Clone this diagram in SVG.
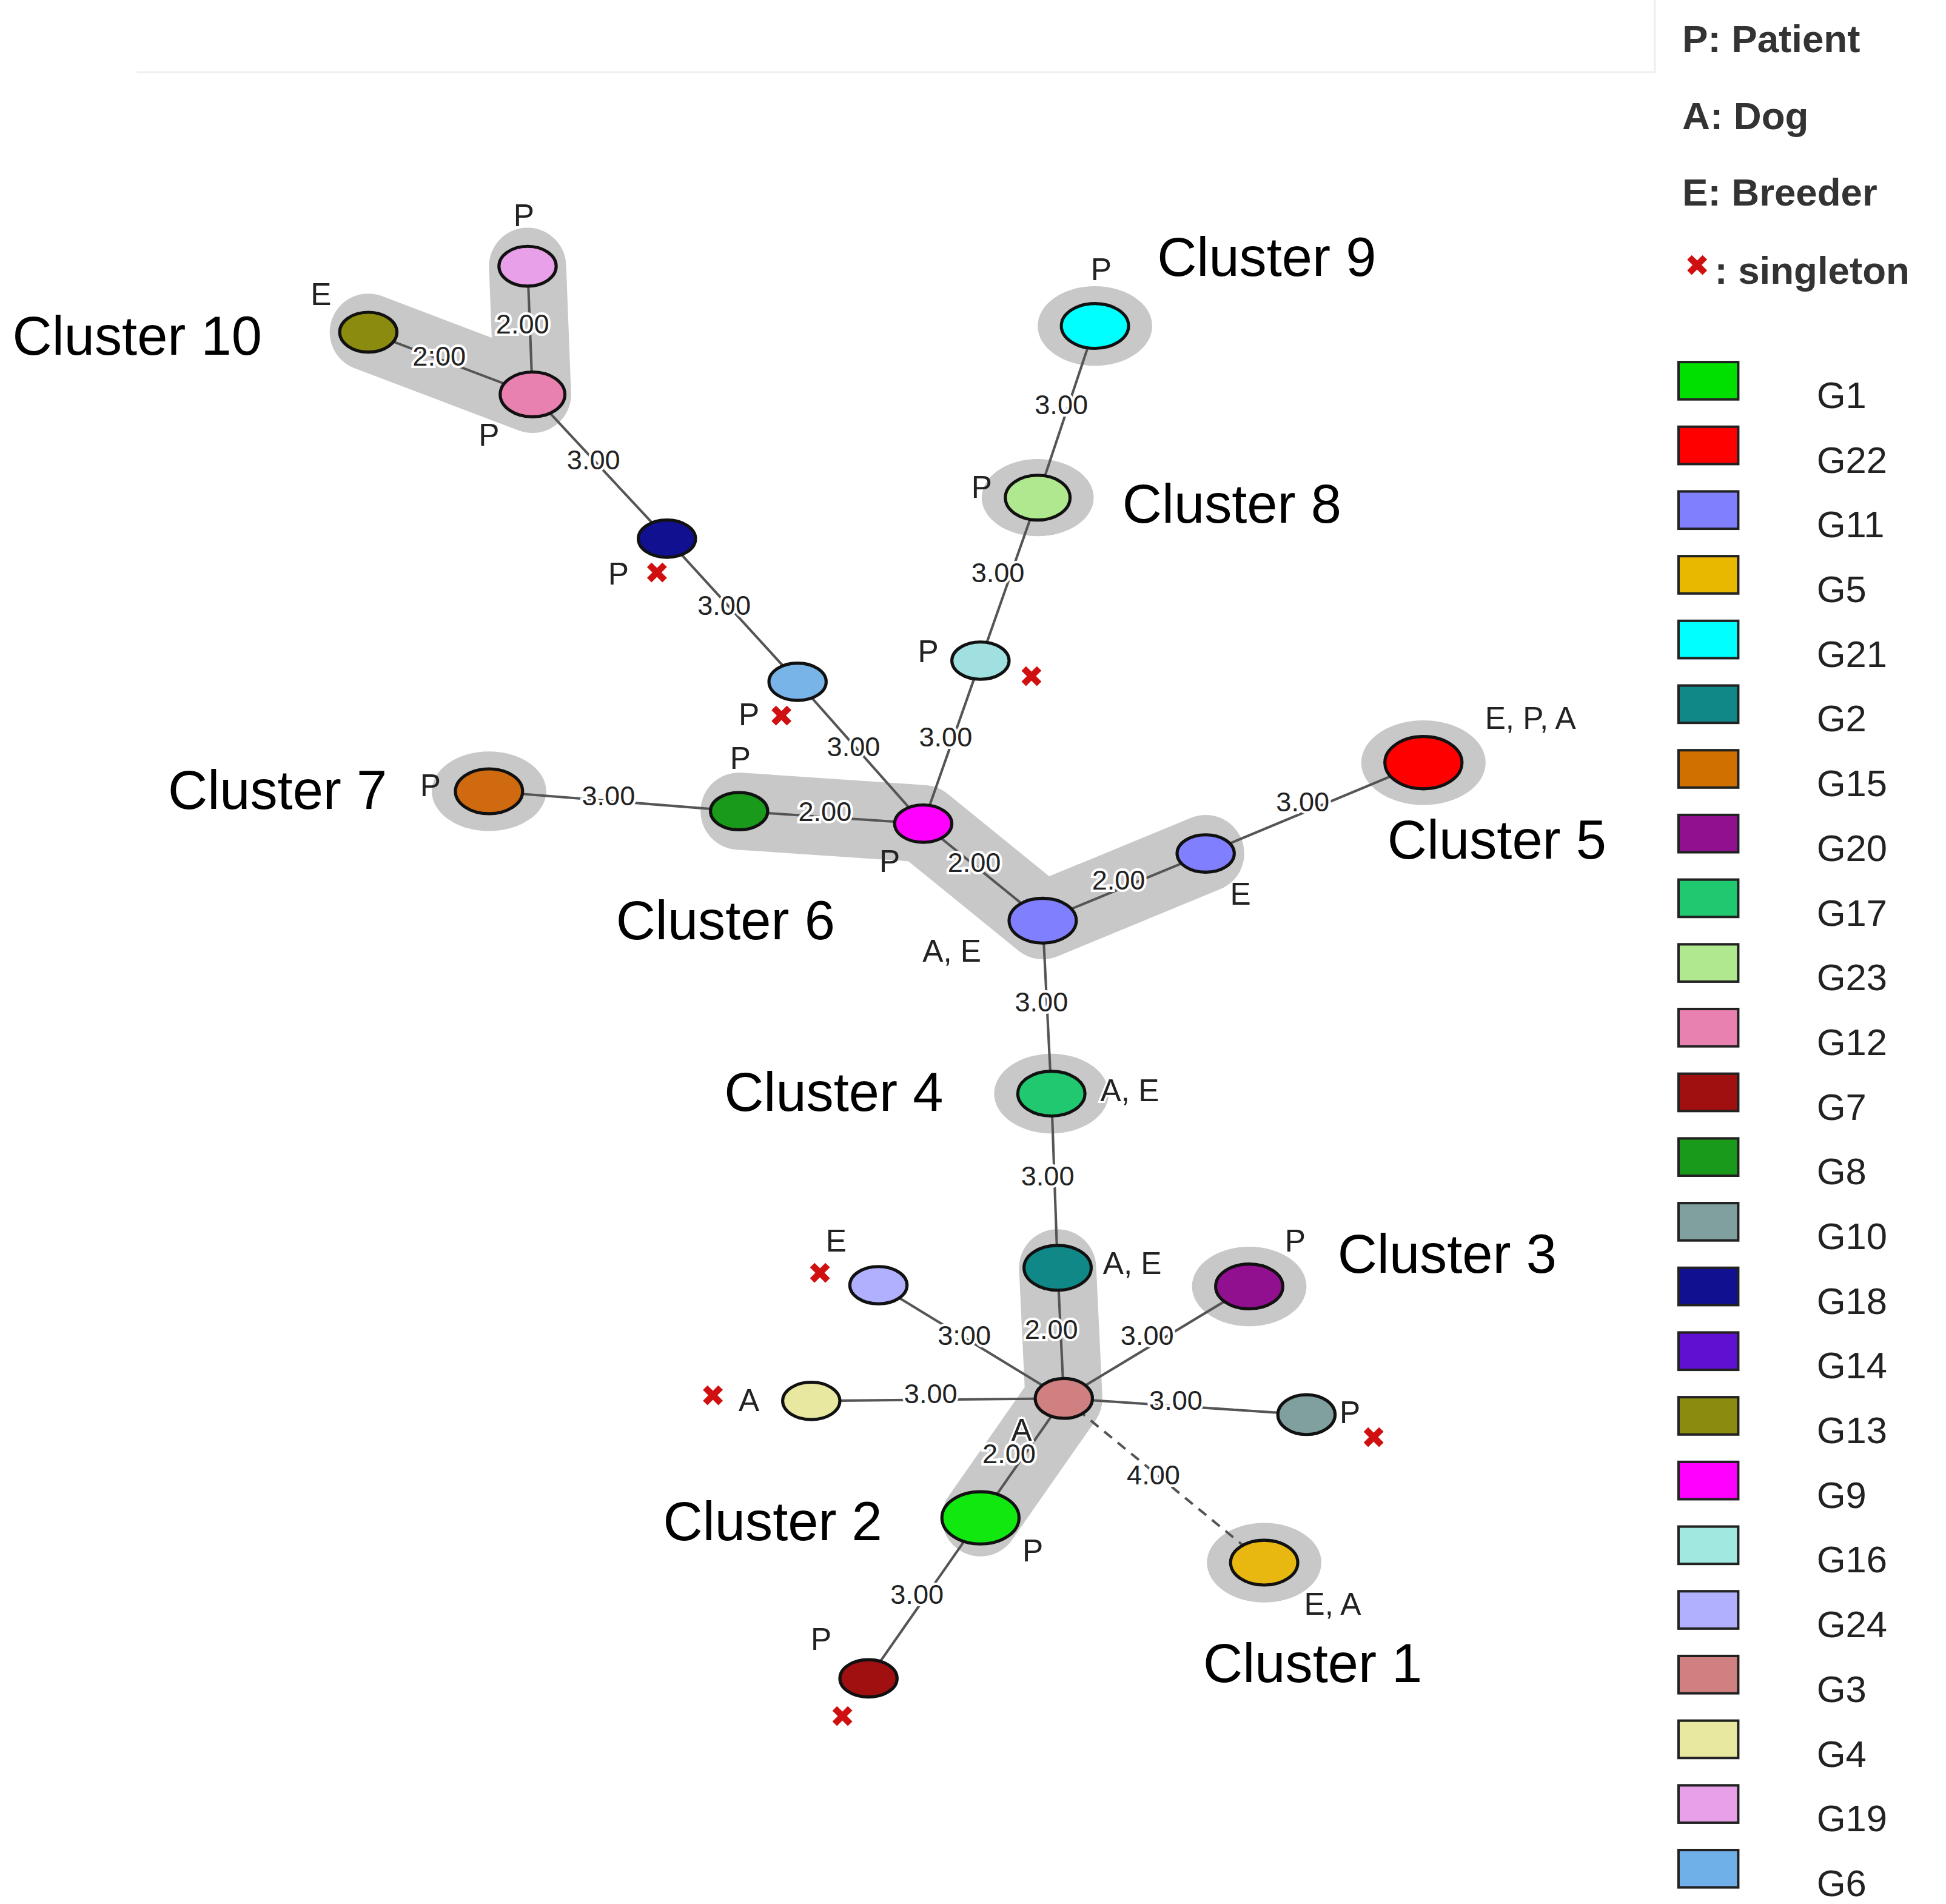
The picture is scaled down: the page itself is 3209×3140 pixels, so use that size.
<svg xmlns="http://www.w3.org/2000/svg" width="3209" height="3140" viewBox="0 0 3209 3140">
<style>
.e{stroke:#555;stroke-width:2;fill:none}
.n{stroke:#111;stroke-width:2.5}
.h{stroke:#c8c8c8;stroke-linecap:round;stroke-linejoin:round;fill:none;stroke-width:62}
.hc{fill:#c8c8c8}
.el{font-family:"Liberation Sans",Arial,sans-serif;font-size:22px;fill:#222;text-anchor:middle;stroke:#fff;stroke-width:4;paint-order:stroke}
.nl{font-family:"Liberation Sans",Arial,sans-serif;font-size:25px;fill:#222;text-anchor:middle}
.cl{font-family:"Liberation Sans",Arial,sans-serif;font-size:44px;fill:#000}
.x{font-family:"DejaVu Sans",sans-serif;font-size:24px;fill:#d01010;text-anchor:middle;font-weight:bold}
.lg{font-family:"Liberation Sans",Arial,sans-serif;font-size:31px;fill:#333;font-weight:bold}
.gl{font-family:"Liberation Sans",Arial,sans-serif;font-size:30px;fill:#222}
.sq{stroke:#222;stroke-width:2}
</style>
<rect width="3209" height="3140" fill="#fff"/>
<g transform="scale(2.0518)">
<g id="frame"><path d="M110 58 H1330 V0" stroke="#eee" stroke-width="1.5" fill="none"/></g>
<g id="halos">
<polyline class="h" points="424,214 428,317 296,267"/>
<polyline class="h" points="594,652 742,662 838,740 969,686"/>
<polyline class="h" points="850,1019 855,1124 788,1220"/>
<ellipse class="hc" cx="393" cy="636" rx="46" ry="32"/>
<ellipse class="hc" cx="834" cy="400" rx="45" ry="31"/>
<ellipse class="hc" cx="880" cy="262" rx="46" ry="32"/>
<ellipse class="hc" cx="845" cy="879" rx="46" ry="32"/>
<ellipse class="hc" cx="1004" cy="1034" rx="46" ry="32"/>
<ellipse class="hc" cx="1016" cy="1256" rx="46" ry="32"/>
<ellipse class="hc" cx="1144" cy="613" rx="50" ry="34"/>
</g>
<g id="connectors">
<line class="e" x1="424" y1="214" x2="428" y2="317"/>
<line class="e" x1="296" y1="267" x2="428" y2="317"/>
<line class="e" x1="428" y1="317" x2="536" y2="433"/>
<line class="e" x1="536" y1="433" x2="641" y2="548"/>
<line class="e" x1="641" y1="548" x2="742" y2="662"/>
<line class="e" x1="393" y1="636" x2="594" y2="652"/>
<line class="e" x1="594" y1="652" x2="742" y2="662"/>
<line class="e" x1="742" y1="662" x2="838" y2="740"/>
<line class="e" x1="838" y1="740" x2="969" y2="686"/>
<line class="e" x1="969" y1="686" x2="1144" y2="613"/>
<line class="e" x1="742" y1="662" x2="788" y2="531"/>
<line class="e" x1="788" y1="531" x2="834" y2="400"/>
<line class="e" x1="834" y1="400" x2="880" y2="262"/>
<line class="e" x1="838" y1="740" x2="845" y2="879"/>
<line class="e" x1="845" y1="879" x2="850" y2="1019"/>
<line class="e" x1="850" y1="1019" x2="855" y2="1124"/>
<line class="e" x1="706" y1="1033" x2="855" y2="1124"/>
<line class="e" x1="1004" y1="1034" x2="855" y2="1124"/>
<line class="e" x1="652" y1="1126" x2="855" y2="1124"/>
<line class="e" x1="1050" y1="1137" x2="855" y2="1124"/>
<line class="e" x1="855" y1="1124" x2="788" y2="1220"/>
<line class="e" x1="855" y1="1124" x2="1016" y2="1256" stroke="#999" stroke-dasharray="8,6"/>
<line class="e" x1="788" y1="1220" x2="698" y2="1349"/>
<text class="el" x="420" y="268">2.00</text>
<text class="el" x="353" y="294">2:00</text>
<text class="el" x="477" y="377">3.00</text>
<text class="el" x="582" y="494">3.00</text>
<text class="el" x="686" y="608">3.00</text>
<text class="el" x="760" y="600">3.00</text>
<text class="el" x="802" y="468">3.00</text>
<text class="el" x="853" y="333">3.00</text>
<text class="el" x="489" y="647">3.00</text>
<text class="el" x="663" y="660">2.00</text>
<text class="el" x="783" y="701">2.00</text>
<text class="el" x="899" y="715">2.00</text>
<text class="el" x="1047" y="652">3.00</text>
<text class="el" x="837" y="813">3.00</text>
<text class="el" x="842" y="953">3.00</text>
<text class="el" x="775" y="1081">3:00</text>
<text class="el" x="845" y="1076">2.00</text>
<text class="el" x="922" y="1081">3.00</text>
<text class="el" x="748" y="1128">3.00</text>
<text class="el" x="945" y="1133">3.00</text>
<text class="el" x="811" y="1176">2.00</text>
<text class="el" x="927" y="1193">4.00</text>
<text class="el" x="737" y="1289">3.00</text>
</g>
<g id="G19"><ellipse class="n" cx="424" cy="214" rx="23" ry="16" fill="#e8a0e8"/><text class="nl" x="421" y="182">P</text></g>
<g id="G13"><ellipse class="n" cx="296" cy="267" rx="23" ry="16" fill="#8b8b10"/><text class="nl" x="258" y="245">E</text></g>
<g id="G12"><ellipse class="n" cx="428" cy="317" rx="26" ry="18" fill="#e880b0"/><text class="nl" x="393" y="358">P</text></g>
<g id="G18"><ellipse class="n" cx="536" cy="433" rx="23" ry="15" fill="#101090"/><text class="nl" x="497" y="470">P</text><text class="x" x="528" y="469">✖</text></g>
<g id="G6"><ellipse class="n" cx="641" cy="548" rx="23" ry="15" fill="#78b4e8"/><text class="nl" x="602" y="583">P</text><text class="x" x="628" y="584">✖</text></g>
<g id="G9"><ellipse class="n" cx="742" cy="662" rx="23" ry="15" fill="#ff00ff"/><text class="nl" x="715" y="701">P</text></g>
<g id="G8"><ellipse class="n" cx="594" cy="652" rx="23" ry="15" fill="#1a9a1a"/><text class="nl" x="595" y="618">P</text></g>
<g id="G15"><ellipse class="n" cx="393" cy="636" rx="27" ry="18" fill="#d06a10"/><text class="nl" x="346" y="640">P</text></g>
<g id="G11a"><ellipse class="n" cx="838" cy="740" rx="27" ry="18" fill="#8080ff"/><text class="nl" x="765" y="773">A, E</text></g>
<g id="G11b"><ellipse class="n" cx="969" cy="686" rx="23" ry="15" fill="#8080ff"/><text class="nl" x="997" y="727">E</text></g>
<g id="G22"><ellipse class="n" cx="1144" cy="613" rx="31" ry="21" fill="#ff0000"/><text class="nl" x="1230" y="586">E, P, A</text></g>
<g id="G16"><ellipse class="n" cx="788" cy="531" rx="23" ry="15" fill="#a0e0e0"/><text class="nl" x="746" y="532">P</text><text class="x" x="829" y="552">✖</text></g>
<g id="G23"><ellipse class="n" cx="834" cy="400" rx="26" ry="18" fill="#b0e890"/><text class="nl" x="789" y="400">P</text></g>
<g id="G21"><ellipse class="n" cx="880" cy="262" rx="27" ry="18" fill="#00ffff"/><text class="nl" x="885" y="225">P</text></g>
<g id="G17"><ellipse class="n" cx="845" cy="879" rx="27" ry="18" fill="#20c870"/><text class="nl" x="908" y="885" style="stroke:#fff;stroke-width:3;paint-order:stroke">A, E</text></g>
<g id="G2"><ellipse class="n" cx="850" cy="1019" rx="27" ry="18" fill="#108888"/><text class="nl" x="910" y="1024" style="stroke:#fff;stroke-width:3;paint-order:stroke">A, E</text></g>
<g id="G20"><ellipse class="n" cx="1004" cy="1034" rx="27" ry="18" fill="#901090"/><text class="nl" x="1041" y="1006">P</text></g>
<g id="G24"><ellipse class="n" cx="706" cy="1033" rx="23" ry="15" fill="#b0b0ff"/><text class="nl" x="672" y="1006">E</text><text class="x" x="659" y="1032">✖</text></g>
<g id="G4"><ellipse class="n" cx="652" cy="1126" rx="23" ry="15" fill="#e8e8a0"/><text class="nl" x="602" y="1134">A</text><text class="x" x="573" y="1130">✖</text></g>
<g id="G3"><ellipse class="n" cx="855" cy="1124" rx="23" ry="16" fill="#d08080"/><text class="nl" x="821" y="1158" style="stroke:#fff;stroke-width:3;paint-order:stroke">A</text></g>
<g id="G10"><ellipse class="n" cx="1050" cy="1137" rx="23" ry="16" fill="#80a0a0"/><text class="nl" x="1085" y="1144">P</text><text class="x" x="1104" y="1164">✖</text></g>
<g id="G1"><ellipse class="n" cx="788" cy="1220" rx="31" ry="21" fill="#10e810"/><text class="nl" x="830" y="1255">P</text></g>
<g id="G5"><ellipse class="n" cx="1016" cy="1256" rx="27" ry="18" fill="#e8b810"/><text class="nl" x="1071" y="1298">E, A</text></g>
<g id="G7"><ellipse class="n" cx="698" cy="1349" rx="23" ry="15" fill="#a01010"/><text class="nl" x="660" y="1326">P</text><text class="x" x="677" y="1388">✖</text></g>
<g id="clusters">
<text class="cl" x="10" y="285">Cluster 10</text>
<text class="cl" x="930" y="222">Cluster 9</text>
<text class="cl" x="902" y="420">Cluster 8</text>
<text class="cl" x="135" y="650">Cluster 7</text>
<text class="cl" x="495" y="755">Cluster 6</text>
<text class="cl" x="1115" y="690">Cluster 5</text>
<text class="cl" x="582" y="893">Cluster 4</text>
<text class="cl" x="1075" y="1023">Cluster 3</text>
<text class="cl" x="533" y="1238">Cluster 2</text>
<text class="cl" x="967" y="1352">Cluster 1</text>
</g>
<g id="legend">
<text class="lg" x="1352" y="42">P: Patient</text>
<text class="lg" x="1352" y="104">A: Dog</text>
<text class="lg" x="1352" y="165">E: Breeder</text>
<text class="x" x="1364" y="222" font-size="28">✖</text>
<text class="lg" x="1378" y="228">: singleton</text>
<g id="lg-items">
<rect class="sq" x="1349" y="291" width="48" height="30" fill="#00e000"/><text class="gl" x="1460" y="328">G1</text>
<rect class="sq" x="1349" y="343" width="48" height="30" fill="#ff0000"/><text class="gl" x="1460" y="380">G22</text>
<rect class="sq" x="1349" y="395" width="48" height="30" fill="#8080ff"/><text class="gl" x="1460" y="432">G11</text>
<rect class="sq" x="1349" y="447" width="48" height="30" fill="#e8b800"/><text class="gl" x="1460" y="484">G5</text>
<rect class="sq" x="1349" y="499" width="48" height="30" fill="#00ffff"/><text class="gl" x="1460" y="536">G21</text>
<rect class="sq" x="1349" y="551" width="48" height="30" fill="#108888"/><text class="gl" x="1460" y="588">G2</text>
<rect class="sq" x="1349" y="603" width="48" height="30" fill="#d07000"/><text class="gl" x="1460" y="640">G15</text>
<rect class="sq" x="1349" y="655" width="48" height="30" fill="#901090"/><text class="gl" x="1460" y="692">G20</text>
<rect class="sq" x="1349" y="707" width="48" height="30" fill="#20c870"/><text class="gl" x="1460" y="744">G17</text>
<rect class="sq" x="1349" y="759" width="48" height="30" fill="#b0e890"/><text class="gl" x="1460" y="796">G23</text>
<rect class="sq" x="1349" y="811" width="48" height="30" fill="#e880b0"/><text class="gl" x="1460" y="848">G12</text>
<rect class="sq" x="1349" y="863" width="48" height="30" fill="#a01010"/><text class="gl" x="1460" y="900">G7</text>
<rect class="sq" x="1349" y="915" width="48" height="30" fill="#1a9a1a"/><text class="gl" x="1460" y="952">G8</text>
<rect class="sq" x="1349" y="967" width="48" height="30" fill="#80a0a0"/><text class="gl" x="1460" y="1004">G10</text>
<rect class="sq" x="1349" y="1019" width="48" height="30" fill="#101090"/><text class="gl" x="1460" y="1056">G18</text>
<rect class="sq" x="1349" y="1071" width="48" height="30" fill="#6010d0"/><text class="gl" x="1460" y="1108">G14</text>
<rect class="sq" x="1349" y="1123" width="48" height="30" fill="#8b8b10"/><text class="gl" x="1460" y="1160">G13</text>
<rect class="sq" x="1349" y="1175" width="48" height="30" fill="#ff00ff"/><text class="gl" x="1460" y="1212">G9</text>
<rect class="sq" x="1349" y="1227" width="48" height="30" fill="#a0e8e0"/><text class="gl" x="1460" y="1264">G16</text>
<rect class="sq" x="1349" y="1279" width="48" height="30" fill="#b0b0ff"/><text class="gl" x="1460" y="1316">G24</text>
<rect class="sq" x="1349" y="1331" width="48" height="30" fill="#d08080"/><text class="gl" x="1460" y="1368">G3</text>
<rect class="sq" x="1349" y="1383" width="48" height="30" fill="#e8e8a0"/><text class="gl" x="1460" y="1420">G4</text>
<rect class="sq" x="1349" y="1435" width="48" height="30" fill="#e8a0e8"/><text class="gl" x="1460" y="1472">G19</text>
<rect class="sq" x="1349" y="1487" width="48" height="30" fill="#70b0e8"/><text class="gl" x="1460" y="1524">G6</text>
</g>
</g>
</g>
</svg>
